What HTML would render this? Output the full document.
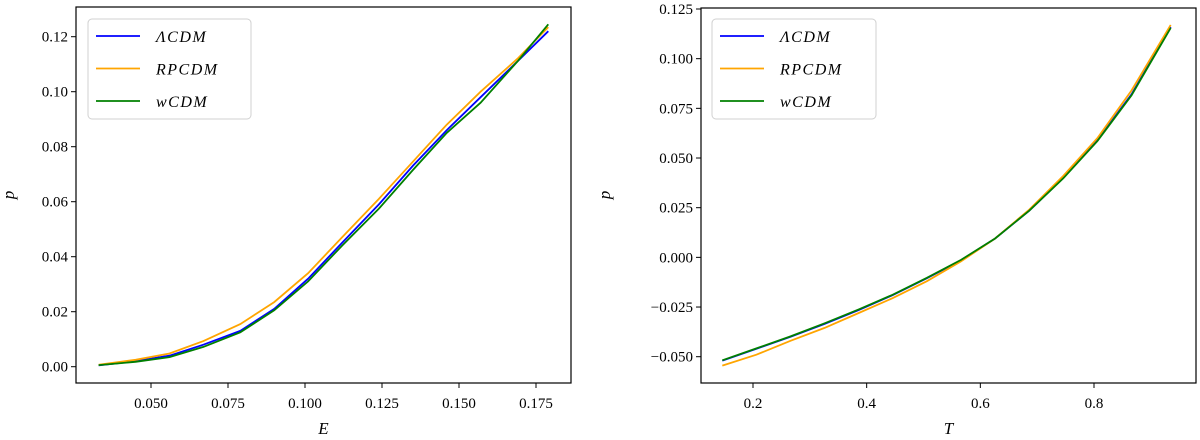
<!DOCTYPE html>
<html><head><meta charset="utf-8">
<style>
body{margin:0;background:#fff;}
svg{display:block;font-family:"Liberation Serif","DejaVu Serif",serif;}
</style></head>
<body>
<svg id="chart" width="1200" height="440" viewBox="0 0 1200 440"></svg>
<script>
const eVals=[0.033,0.045,0.056,0.067,0.079,0.090,0.101,0.112,0.124,0.135,0.146,0.157,0.169,0.179];
const leftL=[0.0005,0.002,0.004,0.008,0.013,0.021,0.032,0.045,0.059,0.073,0.086,0.098,0.111,0.122];
const leftR=[0.0007,0.0025,0.0048,0.0093,0.0155,0.0235,0.034,0.047,0.061,0.0745,0.088,0.100,0.112,0.1235];
const leftW=[0.0006,0.0018,0.0035,0.0072,0.0125,0.0205,0.031,0.044,0.0575,0.0715,0.085,0.096,0.111,0.1245];
const tVals=[0.146,0.206,0.266,0.326,0.386,0.446,0.506,0.566,0.626,0.686,0.746,0.806,0.866,0.935];
const rightL=[-0.052,-0.046,-0.040,-0.0335,-0.0265,-0.019,-0.0105,-0.0015,0.0095,0.0235,0.040,0.059,0.082,0.116];
const rightR=[-0.0545,-0.049,-0.042,-0.0355,-0.028,-0.0205,-0.012,-0.002,0.0095,0.024,0.041,0.060,0.084,0.117];
const rightW=[-0.0518,-0.0458,-0.0398,-0.0332,-0.0262,-0.0188,-0.0103,-0.0013,0.0095,0.0235,0.0398,0.0585,0.0815,0.1155];
const leftXTicks=[0.050,0.075,0.100,0.125,0.150,0.175];
const leftXLabels=["0.050","0.075","0.100","0.125","0.150","0.175"];
const leftYTicks=[0,0.02,0.04,0.06,0.08,0.10,0.12];
const leftYLabels=["0.00","0.02","0.04","0.06","0.08","0.10","0.12"];
const rightXTicks=[0.2,0.4,0.6,0.8];
const rightXLabels=["0.2","0.4","0.6","0.8"];
const rightYTicks=[-0.05,-0.025,0,0.025,0.05,0.075,0.1,0.125];
const rightYLabels=["\u22120.050","\u22120.025","0.000","0.025","0.050","0.075","0.100","0.125"];
const seriesNames=["\u039BCDM","RPCDM","wCDM"];
const seriesColors=["#0000ff","#ffa500","#008000"];

const NS="http://www.w3.org/2000/svg";
const svg=document.getElementById('chart');
function mk(tag,attrs,parent){const e=document.createElementNS(NS,tag);for(const k in attrs)e.setAttribute(k,attrs[k]);(parent||svg).appendChild(e);return e;}

function panel(cfg){
  const g=mk('g',{});
  
  
  const sx=v=>cfg.x0px+(v-cfg.x0)*(cfg.x1px-cfg.x0px)/(cfg.x1-cfg.x0);
  const sy=v=>cfg.y0px+(v-cfg.y0)*(cfg.y1px-cfg.y0px)/(cfg.y1-cfg.y0);
  const F=cfg.frame;
  cfg.xt.forEach((t,i)=>{
    const x=sx(t);
    const tk=mk('line',{x1:x,x2:x,y1:F.b,y2:F.b+5,stroke:'#000','stroke-width':1},g);
    
    
    const tx=mk('text',{x:x,y:F.b+25,'text-anchor':'middle','font-size':15},g);
    
    
    tx.textContent=cfg.xl[i];
  });
  cfg.yt.forEach((t,i)=>{
    const y=sy(t);
    const tk=mk('line',{x1:F.l-5,x2:F.l,y1:y,y2:y,stroke:'#000','stroke-width':1},g);
    
    
    const tx=mk('text',{x:F.l-8,y:y+5,'text-anchor':'end','font-size':15},g);
    
    
    tx.textContent=cfg.yl[i];
  });
  cfg.series.forEach((s,k)=>{
    const d=s.map((v,i)=>(i?'L':'M')+sx(cfg.xs[i]).toFixed(1)+','+sy(v).toFixed(1)).join('');
    const p=mk('path',{d:d,fill:'none',stroke:seriesColors[k],'stroke-width':1.8},g);
    
    
  });
  const fr=mk('rect',{x:F.l,y:F.t,width:F.r-F.l,height:F.b-F.t,fill:'none',stroke:'#000','stroke-width':1.2},g);
  
  
  const xl=mk('text',{x:(F.l+F.r)/2,y:434,'text-anchor':'middle','font-size':17,'font-style':'italic'},g);
  
  
  xl.textContent=cfg.xlabel;
  const yl=mk('text',{x:0,y:0,'text-anchor':'middle','font-size':17,'font-style':'italic',transform:'translate('+cfg.ylx+',195) rotate(-90)'},g);
  
  
  yl.textContent='p';
  const L=cfg.legend;
  const lg=mk('g',{},g);
  
  
  mk('rect',{x:L.x,y:L.y,width:L.w,height:100,rx:4,fill:'#fff','fill-opacity':0.8,stroke:'#d0d0d0','stroke-width':1},lg);
  seriesNames.forEach((n,k)=>{
    const y=L.y+17+k*32.5;
    const e=mk('g',{},lg);
    
    
    mk('line',{x1:L.x+8,x2:L.x+52,y1:y,y2:y,stroke:seriesColors[k],'stroke-width':1.8},e);
    const t=mk('text',{x:L.x+68,y:y+6,'font-size':16,'font-style':'italic','letter-spacing':'1.5'},e);
    t.textContent=n;
  });
}
panel({name:'left-panel',frame:{l:76,r:571,t:7,b:383},x0:0.05,x1:0.175,x0px:151,x1px:536,y0:0,y1:0.12,y0px:366.7,y1px:36.7,
  xt:leftXTicks,xl:leftXLabels,yt:leftYTicks,yl:leftYLabels,xs:eVals,series:[leftL,leftR,leftW],xlabel:'E',ylx:14,legend:{x:88,y:19,w:163}});
panel({name:'right-panel',frame:{l:701,r:1196,t:8,b:383},x0:0.2,x1:0.8,x0px:753,x1px:1094,y0:-0.05,y1:0.125,y0px:356.7,y1px:9,
  xt:rightXTicks,xl:rightXLabels,yt:rightYTicks,yl:rightYLabels,xs:tVals,series:[rightL,rightR,rightW],xlabel:'T',ylx:610,legend:{x:712,y:19,w:164}});
</script>
</body></html>
